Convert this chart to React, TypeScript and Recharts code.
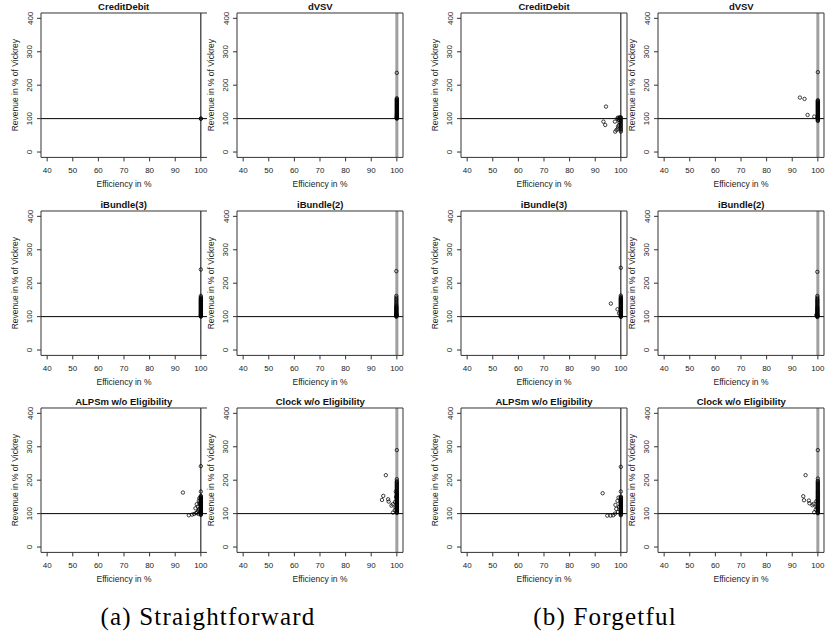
import { ScatterChart, Scatter, XAxis, YAxis, ReferenceLine } from 'recharts'

// ---- data: [efficiency %, revenue in % of Vickrey] ----
const titles = ['CreditDebit', 'dVSV', 'iBundle(3)', 'iBundle(2)', 'ALPSm w/o Eligibility', 'Clock w/o Eligibility']
const xTicks = [40, 50, 60, 70, 80, 90, 100]
const yTicks = [0, 100, 200, 300, 400]

type Pt = [number, number]

// (a) Straightforward
const sfCreditDebit: Pt[] = [[100, 100], [100, 100]]
const sfDVSV: Pt[] = [
  [100, 100], [100, 101], [100, 102], [100, 103], [100, 104], [100, 105], [100, 106], [100, 108], [100, 109],
  [100, 111], [100, 112], [100, 114], [100, 116], [100, 118], [100, 120], [100, 122], [100, 124], [100, 126],
  [100, 128], [100, 130], [100, 132], [100, 134], [100, 136], [100, 138], [100, 140], [100, 142], [100, 144],
  [100, 146], [100, 148], [100, 150], [100, 152], [100, 154], [100, 156], [100, 158], [100, 161], [100, 237],
]
const sfIBundle3: Pt[] = [
  [100, 100], [100, 101], [100, 102], [100, 104], [100, 105], [100, 107], [100, 109], [100, 111], [100, 113],
  [100, 115], [100, 117], [100, 119], [100, 121], [100, 123], [100, 125], [100, 127], [100, 129], [100, 131],
  [100, 133], [100, 135], [100, 137], [100, 139], [100, 141], [100, 143], [100, 145], [100, 147], [100, 149],
  [100, 151], [100, 153], [100, 155], [100, 158], [100, 162], [100, 241],
]
const sfIBundle2: Pt[] = [
  [99.8, 100], [99.8, 101], [99.8, 102], [99.8, 103], [99.8, 104], [99.8, 105], [99.8, 106], [99.8, 107],
  [99.8, 108], [99.8, 110], [99.8, 111], [99.8, 113], [99.8, 115], [99.8, 117], [99.8, 119], [99.8, 121],
  [99.8, 123], [99.8, 125], [99.8, 127], [99.8, 129], [99.8, 131], [99.8, 134], [99.8, 137], [99.8, 141],
  [99.8, 145], [99.8, 149], [99.8, 153], [99.8, 157], [99.8, 162], [99.8, 236],
]
const sfALPSm: Pt[] = [
  [100, 96], [100, 98], [100, 100], [100, 101], [100, 103], [100, 105], [100, 107], [100, 109], [100, 111],
  [100, 113], [100, 115], [100, 117], [100, 119], [100, 121], [100, 123], [100, 125], [100, 127], [100, 129],
  [100, 131], [100, 133], [100, 135], [100, 137], [100, 139], [100, 141], [100, 143], [100, 145], [100, 147],
  [100, 149], [100, 151], [100, 153], [100, 166], [100, 242],
  [93, 163], [95.3, 95], [96.6, 97], [97.4, 99], [97.9, 116], [98.4, 128], [98.8, 121], [99, 108],
  [99.2, 138], [99.4, 146], [98.6, 104], [99.1, 99], [99.5, 131], [99.3, 113], [98.2, 102],
]
const sfClock: Pt[] = [
  [100, 102], [100, 104], [100, 106], [100, 108], [100, 110], [100, 112], [100, 114], [100, 116], [100, 118],
  [100, 120], [100, 122], [100, 124], [100, 126], [100, 128], [100, 130], [100, 132], [100, 134], [100, 136],
  [100, 138], [100, 140], [100, 142], [100, 144], [100, 146], [100, 148], [100, 150], [100, 152], [100, 154],
  [100, 156], [100, 158], [100, 160], [100, 162], [100, 164], [100, 167], [100, 170], [100, 173], [100, 176],
  [100, 179], [100, 182], [100, 185], [100, 188], [100, 191], [100, 194], [100, 197], [100, 203], [100, 290],
  [95.7, 215], [94.7, 153], [94.2, 141], [96.6, 143], [96.8, 136], [97.9, 124], [98.4, 128], [98.5, 103],
  [99.2, 110], [99.5, 118], [99.3, 135], [99.6, 166], [99.7, 150],
]

// (b) Forgetful
const fgCreditDebit: Pt[] = [
  [94.2, 136], [93.2, 91], [93.9, 81], [97.7, 91], [97.8, 61], [98.3, 66], [98.8, 70], [98.6, 100],
  [98.9, 103], [99.1, 98], [99.3, 95], [99.6, 102], [100, 100], [100, 97], [100, 93], [100, 89], [100, 85],
  [100, 81], [100, 77], [100, 73], [100, 69], [100, 65], [100, 61], [99.5, 88], [99.2, 80], [98.9, 76],
  [99.6, 104], [100, 104],
]
const fgDVSV: Pt[] = [
  [93, 163], [94.8, 159], [96, 111], [98.6, 106],
  [100, 93], [100, 95], [100, 97], [100, 99], [100, 101], [100, 103], [100, 105], [100, 107], [100, 109],
  [100, 111], [100, 113], [100, 115], [100, 117], [100, 119], [100, 121], [100, 123], [100, 125], [100, 127],
  [100, 129], [100, 131], [100, 133], [100, 135], [100, 137], [100, 139], [100, 141], [100, 143], [100, 145],
  [100, 147], [100, 149], [100, 151], [100, 153], [100, 155], [100, 239],
]
const fgIBundle3: Pt[] = [
  [96.1, 139], [98.7, 122], [99.3, 110],
  [100, 99], [100, 100], [100, 102], [100, 104], [100, 106], [100, 108], [100, 110], [100, 112], [100, 114],
  [100, 116], [100, 118], [100, 120], [100, 122], [100, 124], [100, 126], [100, 128], [100, 130], [100, 132],
  [100, 134], [100, 136], [100, 138], [100, 140], [100, 142], [100, 144], [100, 146], [100, 148], [100, 150],
  [100, 152], [100, 154], [100, 156], [100, 159], [100, 163], [100, 246],
]
const fgIBundle2: Pt[] = [
  [99.8, 99], [99.8, 100], [99.8, 101], [99.8, 102], [99.8, 103], [99.8, 104], [99.8, 106], [99.8, 107],
  [99.8, 109], [99.8, 111], [99.8, 113], [99.8, 115], [99.8, 117], [99.8, 119], [99.8, 121], [99.8, 123],
  [99.8, 125], [99.8, 127], [99.8, 129], [99.8, 132], [99.8, 135], [99.8, 138], [99.8, 141], [99.8, 144],
  [99.8, 147], [99.8, 150], [99.8, 153], [99.8, 157], [99.8, 162], [99.8, 234], [99.4, 105],
]
const fgALPSm: Pt[] = [
  [92.9, 161], [100, 240], [100, 166], [94.7, 94], [96, 94], [97, 95], [97.7, 100], [97.9, 126], [98.2, 114],
  [98.7, 138], [99.1, 148], [98.9, 105], [99.3, 120],
  [100, 95], [100, 97], [100, 99], [100, 101], [100, 103], [100, 105], [100, 107], [100, 109], [100, 111],
  [100, 113], [100, 115], [100, 117], [100, 119], [100, 121], [100, 123], [100, 125], [100, 127], [100, 129],
  [100, 131], [100, 133], [100, 135], [100, 137], [100, 139], [100, 141], [100, 143], [100, 145], [100, 147],
  [100, 149], [100, 151],
]
const fgClock: Pt[] = [
  [100, 290], [95.2, 215], [94.3, 152], [94.6, 140], [96.5, 139], [96.7, 131], [97.9, 125], [98.3, 129],
  [98.6, 104], [99.2, 112], [99.5, 120], [99.4, 137],
  [100, 101], [100, 103], [100, 106], [100, 108], [100, 111], [100, 113], [100, 116], [100, 118], [100, 121],
  [100, 123], [100, 126], [100, 128], [100, 131], [100, 133], [100, 136], [100, 138], [100, 141], [100, 143],
  [100, 146], [100, 148], [100, 151], [100, 153], [100, 156], [100, 158], [100, 161], [100, 163], [100, 166],
  [100, 168], [100, 171], [100, 174], [100, 177], [100, 180], [100, 183], [100, 186], [100, 189], [100, 192],
  [100, 195], [100, 198], [100, 205],
]

const groups: Pt[][][] = [
  [sfCreditDebit, sfDVSV, sfIBundle3, sfIBundle2, sfALPSm, sfClock],
  [fgCreditDebit, fgDVSV, fgIBundle3, fgIBundle2, fgALPSm, fgClock],
]

// ---- layout ----
const PW = 166
const PH = 144.4
const ML = 40
const MT = 13
const CW = ML + PW + 4
const CH = MT + PH + 38
const colLeft = [40.7, 237.3, 461, 658.3]
const rowTop = [12.7, 210.5, 408.3]
const SANS = '"Liberation Sans", Arial, Helvetica, sans-serif'
const INK = '#222'

const Ring = (p: any) => (
  <circle cx={p.cx} cy={p.cy} r={1.7} fill="none" stroke="#000" strokeWidth={0.75} />
)

const YTick = (p: any) => (
  <text x={p.x} y={p.y} transform={`rotate(-90 ${p.x} ${p.y})`} textAnchor="middle"
    fontSize={8} fill={INK} fontFamily={SANS}>{p.payload.value}</text>
)

const YLabel = () => (
  <text x={16.8} y={MT + PH / 2} transform={`rotate(-90 16.8 ${MT + PH / 2})`} textAnchor="middle"
    fontSize={8.5} fill={INK} fontFamily={SANS}>Revenue in % of Vickrey</text>
)

interface PanelProps { left: number; top: number; title: string; pts: Pt[]; grey: boolean; hideRight: boolean }

function Panel({ left, top, title, pts, grey, hideRight }: PanelProps) {
  const data = pts.map(([x, y]) => ({ x, y }))
  return (
    <div style={{ position: 'absolute', left: left - ML, top: top - MT, width: CW, height: CH }}>
      <div style={{ position: 'absolute', left: ML, top: MT - 12, width: PW, textAlign: 'center',
        fontFamily: SANS, fontWeight: 'bold', fontSize: 9.5, lineHeight: '11px', color: '#111' }}>{title}</div>
      <ScatterChart width={CW} height={CH} margin={{ top: MT, right: 4, bottom: 0, left: 0 }}>
        <XAxis type="number" dataKey="x" domain={[37.6, 102.4]} ticks={xTicks} interval={0} allowDataOverflow
          height={38} tickSize={4} tickMargin={6} axisLine={false} tickLine={{ stroke: '#333' }}
          tick={{ fontSize: 8, fill: INK, fontFamily: SANS }}
          label={{ value: 'Efficiency in %', position: 'insideBottom', offset: 8, fontSize: 8.5, fill: INK, fontFamily: SANS }} />
        <YAxis type="number" dataKey="y" domain={[-16, 416]} ticks={yTicks} interval={0} allowDataOverflow
          width={40} tickSize={4} tickMargin={4.5} axisLine={false} tickLine={{ stroke: '#333' }}
          tick={<YTick />} label={<YLabel />} />
        <ReferenceLine x={100} stroke={grey ? '#a0a0a0' : '#000'} strokeWidth={grey ? 3 : 1} />
        <ReferenceLine y={100} stroke="#000" strokeWidth={1} />
        <ReferenceLine y={416} stroke="#333" />
        <ReferenceLine y={-16} stroke="#333" />
        <ReferenceLine x={37.6} stroke="#333" />
        {!hideRight && <ReferenceLine x={102.4} stroke="#333" />}
        <Scatter data={data} shape={Ring} isAnimationActive={false} />
      </ScatterChart>
    </div>
  )
}

export default function App() {
  const panels = []
  for (let g = 0; g < 2; g++) {
    for (let i = 0; i < 6; i++) {
      const col = g * 2 + (i % 2)
      const row = Math.floor(i / 2)
      panels.push(
        <Panel key={`${g}-${i}`} left={colLeft[col]} top={rowTop[row]} title={titles[i]}
          pts={groups[g][i]} grey={i % 2 === 1} hideRight={col === 0} />
      )
    }
  }
  const cap = { position: 'absolute' as const, top: 603, width: 300, textAlign: 'center' as const,
    fontFamily: '"Liberation Serif", "DejaVu Serif", serif', fontSize: 25, letterSpacing: 1.2, color: '#000' }
  return (
    <div style={{ position: 'absolute', left: 0, top: 0, width: 825, height: 639, background: '#fff', overflow: 'hidden' }}>
      {panels}
      <div style={{ ...cap, left: 58 }}>(a) Straightforward</div>
      <div style={{ ...cap, left: 455 }}>(b) Forgetful</div>
    </div>
  )
}
